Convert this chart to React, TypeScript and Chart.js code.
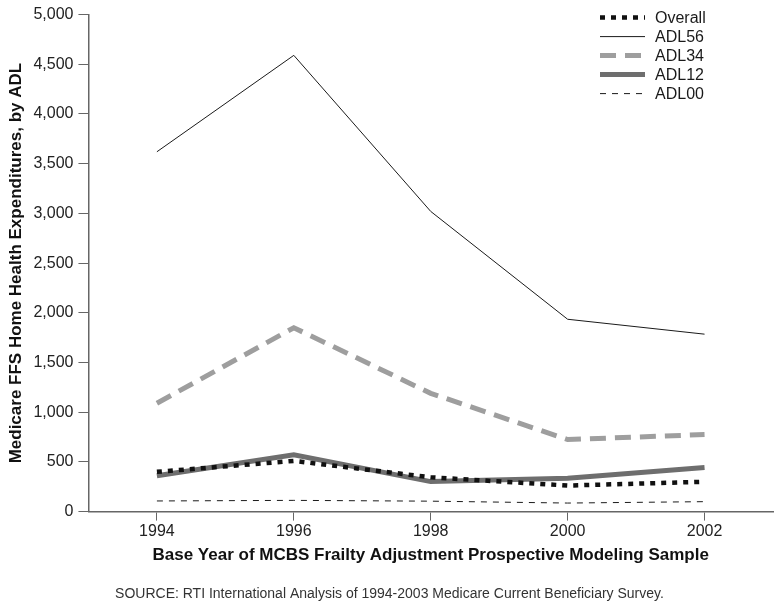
import React, { useEffect, useRef } from "react";
import { Chart, registerables } from "chart.js";

Chart.register(...registerables);

const years = ["1994", "1996", "1998", "2000", "2002"];
const overall = [400, 510, 345, 262, 300];
const adl56 = [3620, 4590, 3020, 1935, 1785];
const adl34 = [1090, 1850, 1190, 725, 775];
const adl12 = [360, 572, 302, 335, 444];
const adl00 = [107, 113, 105, 86, 100];
const yTicks = [0, 500, 1000, 1500, 2000, 2500, 3000, 3500, 4000, 4500, 5000];

const FONT = "'Liberation Sans', Arial, Helvetica, sans-serif";

const legendPlugin = {
  id: "insideLegend",
  afterDatasetsDraw(chart: any) {
    const ctx = chart.ctx;
    const area = chart.chartArea;
    const x0 = area.right - 173;
    const x1 = x0 + 45;
    const tx = x1 + 10;
    let y = area.top + 3;
    ctx.save();
    chart.data.datasets.forEach((ds: any) => {
      ctx.beginPath();
      ctx.strokeStyle = ds.borderColor;
      ctx.lineWidth = ds.borderWidth;
      ctx.setLineDash(ds.borderDash || []);
      ctx.lineCap = "butt";
      ctx.moveTo(x0, y);
      ctx.lineTo(x1, y);
      ctx.stroke();
      ctx.setLineDash([]);
      ctx.fillStyle = "#1a1a1a";
      ctx.font = `16px ${FONT}`;
      ctx.textBaseline = "middle";
      ctx.textAlign = "left";
      ctx.fillText(ds.label, tx, y + 1);
      y += 19;
    });
    ctx.restore();
  },
};

export default function App() {
  const ref = useRef<HTMLCanvasElement>(null);
  useEffect(() => {
    document.body.style.margin = "0";
    const chart = new Chart(ref.current!, {
      type: "line",
      data: {
        labels: years,
        datasets: [
          { label: "Overall", data: overall, borderColor: "#111111", borderWidth: 4.5, borderDash: [5, 6] },
          { label: "ADL56", data: adl56, borderColor: "#1a1a1a", borderWidth: 1 },
          { label: "ADL34", data: adl34, borderColor: "#9e9e9e", borderWidth: 5, borderDash: [16, 9] },
          { label: "ADL12", data: adl12, borderColor: "#6e6e6e", borderWidth: 5 },
          { label: "ADL00", data: adl00, borderColor: "#1a1a1a", borderWidth: 1, borderDash: [6, 6] },
        ].map((d) => ({ ...d, pointRadius: 0, tension: 0, fill: false, borderCapStyle: "butt" as const })),
      },
      options: {
        animation: false,
        responsive: false,
        layout: { padding: { top: 12, right: 8, left: 6, bottom: 2 } },
        plugins: {
          legend: { display: false },
          tooltip: { enabled: false },
          title: {
            display: true,
            position: "bottom",
            text: "SOURCE: RTI International Analysis of 1994-2003 Medicare Current Beneficiary Survey.",
            color: "#333",
            font: { family: FONT, size: 14, weight: "normal" },
            padding: { top: 21, bottom: 3 },
          },
        },
        scales: {
          x: {
            type: "category",
            offset: true,
            grid: { drawOnChartArea: false, drawTicks: true, tickLength: 9, color: "#666", offset: false },
            border: { color: "#666", width: 1.5 },
            ticks: { color: "#222", font: { family: FONT, size: 16 }, padding: 1 },
            title: {
              display: true,
              text: "Base Year of MCBS Frailty Adjustment Prospective Modeling Sample",
              color: "#111",
              font: { family: FONT, size: 17, weight: "bold" },
              padding: { top: 3, bottom: 0 },
            },
          },
          y: {
            min: 0,
            max: 5000,
            afterBuildTicks: (axis: any) => {
              axis.ticks = yTicks.map((v) => ({ value: v }));
            },
            grid: { drawOnChartArea: false, drawTicks: true, tickLength: 10, color: "#666" },
            border: { color: "#666", width: 1.5 },
            ticks: {
              color: "#222",
              font: { family: FONT, size: 16 },
              padding: 5,
              callback: (v: any) => Number(v).toLocaleString("en-US"),
            },
            title: {
              display: true,
              text: "Medicare FFS Home Health Expenditures, by ADL",
              color: "#111",
              font: { family: FONT, size: 17, weight: "bold" },
              padding: { top: 0, bottom: 2 },
            },
          },
        },
      },
      plugins: [legendPlugin],
    });
    return () => chart.destroy();
  }, []);
  return (
    <div style={{ width: 781, height: 608, background: "#fff" }}>
      <canvas ref={ref} width={781} height={608} style={{ display: "block" }} />
    </div>
  );
}
